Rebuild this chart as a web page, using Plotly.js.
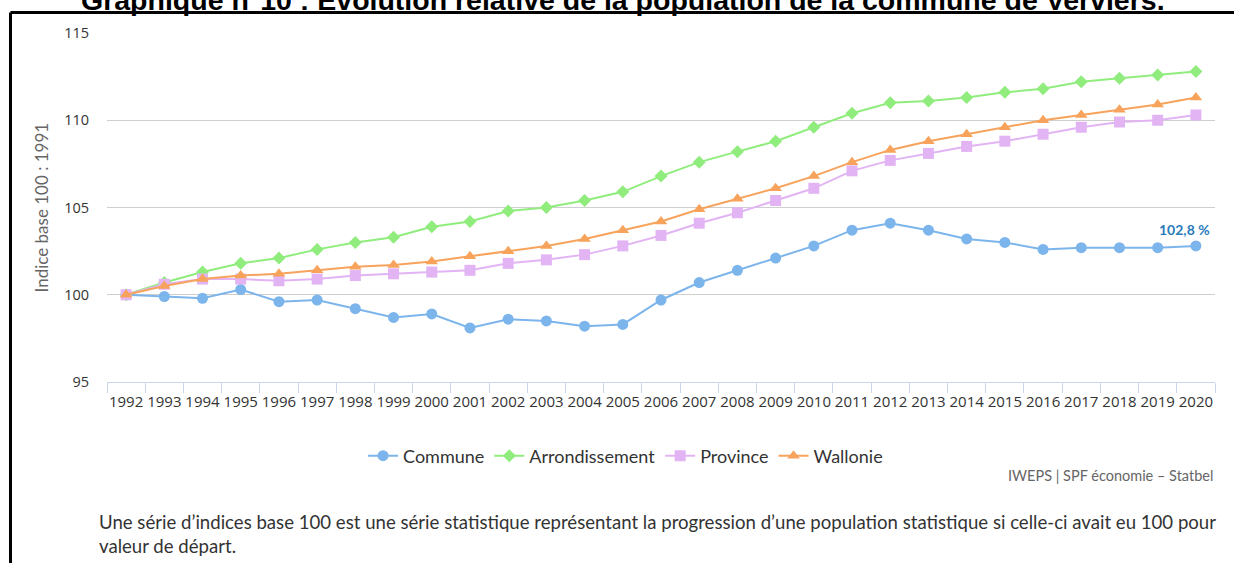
<!DOCTYPE html>
<html>
<head>
<meta charset="utf-8">
<script src="https://cdn.plot.ly/plotly-3.0.1.min.js"></script>
<style>html,body{margin:0;padding:0;background:#fff;}#chart{width:1234px;height:563px;}</style>
</head>
<body>
<div id="chart"></div>
<script>
var years = ['1992','1993','1994','1995','1996','1997','1998','1999','2000','2001','2002','2003','2004','2005','2006','2007','2008','2009','2010','2011','2012','2013','2014','2015','2016','2017','2018','2019','2020'];
var commune = [100,99.9,99.8,100.3,99.6,99.7,99.2,98.7,98.9,98.1,98.6,98.5,98.2,98.3,99.7,100.7,101.4,102.1,102.8,103.7,104.1,103.7,103.2,103.0,102.6,102.7,102.7,102.7,102.8];
var arrondissement = [100,100.7,101.3,101.8,102.1,102.6,103.0,103.3,103.9,104.2,104.8,105.0,105.4,105.9,106.8,107.6,108.2,108.8,109.6,110.4,111.0,111.1,111.3,111.6,111.8,112.2,112.4,112.6,112.8];
var province = [100,100.6,100.9,100.9,100.8,100.9,101.1,101.2,101.3,101.4,101.8,102.0,102.3,102.8,103.4,104.1,104.7,105.4,106.1,107.1,107.7,108.1,108.5,108.8,109.2,109.6,109.9,110.0,110.3];
var wallonie = [100,100.5,100.9,101.1,101.2,101.4,101.6,101.7,101.9,102.2,102.5,102.8,103.2,103.7,104.2,104.9,105.5,106.1,106.8,107.6,108.3,108.8,109.2,109.6,110.0,110.3,110.6,110.9,111.3];
var seriesNames = ['Commune','Arrondissement','Province','Wallonie'];
var lastLabel = '102,8 %';

var colors = ['#7cb5ec','#90ed7d','#e2b4f4','#f7a35c'];
var symbols = ['circle','diamond','square','triangle-up'];
var sizes = [11,10,11,11];
var data = [commune, arrondissement, province, wallonie].map(function(v,i){
  return {
    type:'scatter', mode:'lines+markers', name:seriesNames[i],
    x:years, y:v,
    line:{color:colors[i], width:2},
    marker:{color:colors[i], symbol:symbols[i], size:sizes[i]},
    hoverinfo:'x+y+name'
  };
});

var font = 'Lato, "Open Sans", sans-serif';
var layout = {
  width:1234, height:563,
  margin:{l:107, r:19, t:33, b:181},
  paper_bgcolor:'#fff', plot_bgcolor:'#fff',
  showlegend:true,
  legend:{orientation:'h', x:0.468, xanchor:'center', y:-0.212, yanchor:'middle',
          font:{family:font, size:18, color:'#333'}, itemwidth:30},
  xaxis:{type:'category', range:[-0.5, years.length-0.5], autorange:false,
         showgrid:false, showline:true, linecolor:'#ccd6eb', linewidth:1,
         ticks:'outside', tickson:'boundaries', ticklen:10, tickcolor:'#ccd6eb', tickangle:0,
         ticklabelstandoff:6,
         tickfont:{family:'"Open Sans", sans-serif', size:15, color:'#333'}, fixedrange:true},
  yaxis:{range:[95,115], autorange:false, dtick:5, showgrid:true, gridcolor:'#cfcfcf', gridwidth:1,
         zeroline:false, showline:false, ticks:'outside', ticklen:14, tickcolor:'rgba(0,0,0,0)',
         tickfont:{family:'"Open Sans", sans-serif', size:14.5, color:'#333'}, fixedrange:true},
  annotations:[
    {text:'Graphique n°10 : Évolution relative de la population de la commune de Verviers.',
     xref:'paper', yref:'paper', x:0.4657, y:1.043, xanchor:'center', yanchor:'bottom', showarrow:false,
     font:{family:'"Liberation Sans", Arial, sans-serif', size:28.5, color:'#000', weight:'bold'}},
    {text:'Indice base 100 : 1991', xref:'paper', yref:'paper', x:-0.0587, y:0.5, textangle:-90,
     xanchor:'center', yanchor:'middle', showarrow:false,
     font:{family:font, size:17, color:'#666'}},
    {text:lastLabel, xref:'x', yref:'y', x:years.length-1, y:commune[commune.length-1],
     xshift:-11, yshift:16, showarrow:false, xanchor:'center', yanchor:'middle',
     font:{family:font, size:14, color:'#2b7bba', weight:'bold'}},
    {text:'IWEPS | SPF économie – Statbel', xref:'paper', yref:'paper', x:1.0, y:-0.267,
     xanchor:'right', yanchor:'middle', showarrow:false,
     font:{family:font, size:14.5, color:'#666'}},
    {text:'Une série d’indices base 100 est une série statistique représentant la progression d’une population statistique si celle-ci avait eu 100 pour<br>valeur de départ.',
     xref:'paper', yref:'paper', x:-0.0090, y:-0.365, xanchor:'left', yanchor:'top', align:'left', showarrow:false,
     font:{family:font, size:18.6, color:'#333'}}
  ],
  shapes:[
    {type:'line', xref:'paper', yref:'paper', x0:-0.0871, x1:1.05, y0:1.0587, y1:1.0587, line:{color:'#000', width:3}},
    {type:'line', xref:'paper', yref:'paper', x0:-0.0871, x1:-0.0871, y0:1.0587, y1:-0.56, line:{color:'#000', width:3}}
  ]
};
Plotly.newPlot('chart', data, layout, {displayModeBar:false, staticPlot:true});
</script>
</body>
</html>
